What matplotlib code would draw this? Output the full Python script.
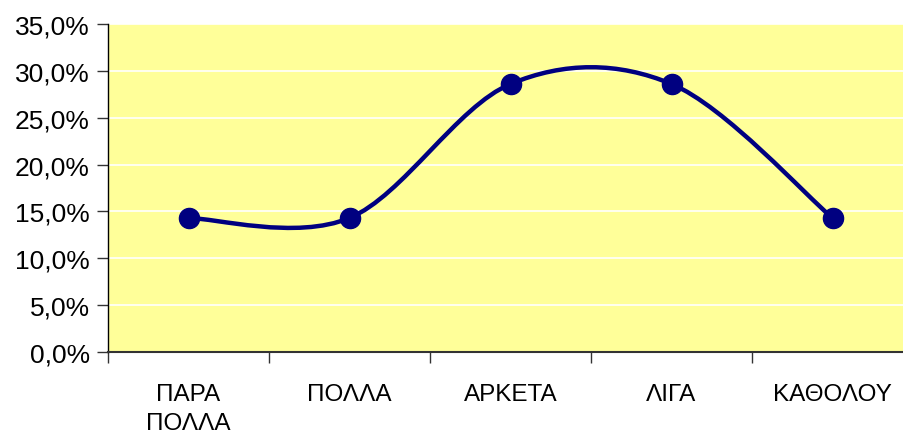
import matplotlib
matplotlib.use("Agg")
import matplotlib.pyplot as plt
from matplotlib.path import Path
from matplotlib.patches import PathPatch
from matplotlib.ticker import FuncFormatter, FixedLocator

categories = ["ΠΑΡΑ\nΠΟΛΛΑ", "ΠΟΛΛΑ", "ΑΡΚΕΤΑ", "ΛΙΓΑ", "ΚΑΘΟΛΟΥ"]
shares = [0.143, 0.143, 0.286, 0.286, 0.143]
y_ticks = [0.0, 0.05, 0.10, 0.15, 0.20, 0.25, 0.30, 0.35]

plt.rcParams["font.family"] = ["Liberation Sans", "DejaVu Sans"]

W, H = 904, 439
fig = plt.figure(figsize=(W / 100, H / 100), dpi=100)
left, right, top, bottom = 108, 913, 25, 353
ax = fig.add_axes([left / W, (H - bottom) / H, (right - left) / W, (bottom - top) / H])
ax.set_facecolor("#FFFF99")

xs = list(range(len(categories)))
ax.set_xlim(-0.5, len(categories) - 0.5)
ax.set_ylim(0, 0.35)

# Smoothed line: cubic Bezier segments (Catmull-Rom style, tension 1/6)
pts = list(zip(xs, shares))
verts = [pts[0]]
codes = [Path.MOVETO]
n = len(pts)
for i in range(n - 1):
    p0 = pts[i - 1] if i > 0 else pts[i]
    p1 = pts[i]
    p2 = pts[i + 1]
    p3 = pts[i + 2] if i + 2 < n else pts[i + 1]
    c1 = (p1[0] + (p2[0] - p0[0]) / 6, p1[1] + (p2[1] - p0[1]) / 6)
    c2 = (p2[0] - (p3[0] - p1[0]) / 6, p2[1] - (p3[1] - p1[1]) / 6)
    verts += [c1, c2, p2]
    codes += [Path.CURVE4] * 3
ax.add_patch(PathPatch(Path(verts, codes), fill=False, edgecolor="#000080",
                       lw=3.2, zorder=3, capstyle="round", joinstyle="round"))
ax.plot(xs, shares, linestyle="none", marker="o", markersize=14.5,
        color="#000080", zorder=4)

ax.yaxis.set_major_locator(FixedLocator(y_ticks))
ax.yaxis.set_major_formatter(FuncFormatter(lambda v, p: f"{v*100:.1f}%".replace(".", ",")))
ax.grid(axis="y", color="white", lw=1.2, zorder=1)
ax.set_axisbelow(True)

ax.set_xticks(xs)
ax.set_xticklabels(categories, fontsize=17.5, linespacing=1.45)
ax.set_xticks([x - 0.5 for x in xs] + [len(categories) - 0.5], minor=True)
ax.tick_params(axis="x", which="major", length=0, pad=22)
ax.tick_params(axis="x", which="minor", length=8, width=1, color="#333333")
ax.tick_params(axis="y", which="major", length=8, width=1, color="#333333",
               labelsize=19, pad=5)

for s in ("top", "right"):
    ax.spines[s].set_visible(False)
ax.spines["left"].set_color("black")
ax.spines["left"].set_linewidth(1)
ax.spines["bottom"].set_color("#333333")
ax.spines["bottom"].set_linewidth(1.5)

fig.savefig("out.png", dpi=100)
